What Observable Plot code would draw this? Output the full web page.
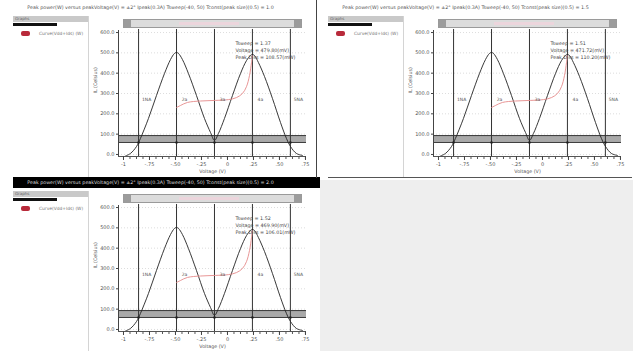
<!DOCTYPE html>
<html>
<head>
<meta charset="utf-8">
<script src="https://cdn.jsdelivr.net/npm/d3@7"></script>
<script src="https://cdn.jsdelivr.net/npm/@observablehq/plot@0.6"></script>
<style>
  html, body { margin: 0; padding: 0; background: #ffffff; }
  body { width: 633px; height: 351px; position: relative; overflow: hidden; font-family: "DejaVu Sans", sans-serif; }
  .quad { position: absolute; left: 320px; top: 180px; width: 313px; height: 171px; background: #eeeeee; }
  .panel { position: absolute; width: 317px; height: 178px; }
  .title { position: absolute; left: 13px; top: 2px; width: 307px; height: 11px; font-size: 4.8px; line-height: 11px; color: #555; text-align: center; white-space: nowrap; overflow: hidden; }
  .title span { position: relative; left: -16px; }
  .title.active { background: #000; color: #ddd; }
  .sidehead { position: absolute; left: 13px; top: 16px; width: 75px; height: 6px; background: #c9c9c9; font-size: 4px; line-height: 6px; color: #666; padding-left: 2px; box-sizing: border-box; }
  .sidebar { position: absolute; left: 13px; top: 23px; width: 44px; height: 3px; background: #111; }
  .sep { position: absolute; left: 88px; top: 16px; width: 1px; height: 162px; background: #d4d4d4; }
  .swatch { position: absolute; left: 21px; top: 31px; width: 9px; height: 5px; background: #b82a3a; border-radius: 2px; }
  .legtext { position: absolute; left: 39px; top: 31px; font-size: 4.4px; line-height: 5px; color: #777; white-space: nowrap; }
  .scroll { position: absolute; left: 123px; top: 19px; width: 179px; height: 9px; background: #dcdcdc; border: 1px solid #9a9a9a; box-sizing: border-box; }
  .scroll .btn { position: absolute; top: 0; width: 7px; height: 7px; background: #9c9c9c; }
  .scroll .thumb { position: absolute; left: 55px; top: 2px; width: 60px; height: 3px; background: #ecd5dc; }
  .bottom { position: absolute; left: 13px; top: 177px; width: 304px; height: 1px; background: #555; }
  .chart { position: absolute; left: 90px; top: 17px; }
</style>
</head>
<body>
<div class="quad"></div>
<script>
// ---- data ----
const xTicks = [-1, -0.75, -0.5, -0.25, 0, 0.25, 0.5, 0.75];
const xTickLabels = ["-1", "-.75", "-.50", "-.25", "0", ".25", ".50", ".75"];
const xMinorTicks = [-1, -0.9375, -0.875, -0.8125, -0.75, -0.6875, -0.625, -0.5625, -0.5, -0.4375, -0.375, -0.3125, -0.25, -0.1875, -0.125, -0.0625, 0, 0.0625, 0.125, 0.1875, 0.25, 0.3125, 0.375, 0.4375, 0.5, 0.5625, 0.625, 0.6875, 0.75];
const yTicks = [0, 100, 200, 300, 400, 500, 600];
const yTickLabels = ["0.0", "100.0", "200.0", "300.0", "400.0", "500.0", "600.0"];
const xDomain = [-1.048, 0.76];
const yDomain = [-10, 610];
const xLabel = ["Voltage (V)"];
const yLabel = ["IL (Celsius)"];

// black waveform (two peaks)
const curveX = [-0.99, -0.933, -0.875, -0.837, -0.76, -0.683, -0.606, -0.548, -0.51, -0.49, -0.471, -0.433, -0.375, -0.298, -0.221, -0.163, -0.125, -0.087, -0.029, 0.048, 0.125, 0.183, 0.221, 0.24, 0.26, 0.298, 0.356, 0.433, 0.51, 0.567, 0.606, 0.663, 0.721];
const curveY = [-10, 5, 39, 79, 177, 290, 398, 467, 497, 502, 497, 467, 398, 290, 177, 108, 69, 103, 177, 290, 398, 462, 487, 492, 487, 452, 384, 275, 157, 79, 39, 5, -5];

// red trace
const redX = [-0.49, -0.452, -0.385, -0.26, -0.115, 0.01, 0.087, 0.144, 0.183, 0.212, 0.231, 0.24];
const redY = [231, 241, 256, 263, 266, 270, 280, 300, 334, 389, 452, 487];

// vertical markers and their labels
const markerX = [-0.855, -0.49, -0.125, 0.24, 0.605];
const markerLabels = ["1NA", "2a", "3a", "4a", "5NA"];
const markerLabelY = 270;

// horizontal grey band
const bandLow = 59;
const bandHigh = 93;

// panel texts
const panelTitles = [
  "Peak power(W) versus peakVoltage(V) = \u00b12\u00b0 Ipeak(0.3A) Tsweep(-40, 50) Tconst(peak size)(0.5) = 1.0",
  "Peak power(W) versus peakVoltage(V) = \u00b12\u00b0 Ipeak(0.3A) Tsweep(-40, 50) Tconst(peak size)(0.5) = 1.5",
  "Peak power(W) versus peakVoltage(V) = \u00b12\u00b0 Ipeak(0.3A) Tsweep(-40, 50) Tconst(peak size)(0.5) = 2.0"
];
const legendLabels = ["Curve(Vdd+Ids) (W)", "Curve(Vdd+Ids) (W)", "Curve(Vdd+Ids) (W)"];
const annotations = [
  ["Tsweep = 1.37", "Voltage = 479.80(mV)", "Peak Diss = 108.57(mW)"],
  ["Tsweep = 1.51", "Voltage = 471.72(mV)", "Peak Diss = 110.20(mW)"],
  ["Tsweep = 1.52", "Voltage = 469.90(mV)", "Peak Diss = 106.01(mW)"]
];
const panelLeft = [0, 315, 0];
const panelTop = [0, 0, 175];
const activePanel = 2;

function makeChart(k) {
  const curve = curveX.map((x, i) => ({x, y: curveY[i]}));
  const red = redX.map((x, i) => ({x, y: redY[i]}));
  const ann = annotations[k].map((t, i) => ({t, i}));
  const annY = [546, 512, 477];
  return Plot.plot({
    width: 222, height: 160,
    marginLeft: 28, marginRight: 6, marginTop: 13, marginBottom: 21,
    x: {domain: xDomain},
    y: {domain: yDomain},
    style: {fontFamily: "DejaVu Sans", fontSize: "5px", background: "transparent", color: "#444", overflow: "visible"},
    marks: [
      Plot.gridY(yTicks, {stroke: "#bbb", strokeDasharray: "1,2", strokeOpacity: 0.5}),
      Plot.rect([{a: bandLow, b: bandHigh}], {x1: xDomain[0], x2: xDomain[1], y1: "a", y2: "b", fill: "#a9a9a9"}),
      Plot.ruleY([bandLow, bandHigh], {stroke: "#3a3a3a", strokeWidth: 1}),
      Plot.ruleX(markerX, {y1: yDomain[0], y2: yDomain[1] + 5, stroke: "#333", strokeWidth: 1}),
      Plot.line(curve, {x: "x", y: "y", stroke: "#222", strokeWidth: 0.9, curve: "catmull-rom"}),
      Plot.line(red, {x: "x", y: "y", stroke: "#e58a8a", strokeWidth: 0.9, curve: "catmull-rom"}),
      Plot.dot(markerX, {x: d => d, y: bandLow, r: 1.3, fill: "#222"}),
      Plot.text(markerX, {x: d => d, y: markerLabelY, text: (d, i) => markerLabels[i], dx: 8, fill: "#555", fontSize: 4.5}),
      Plot.text(ann, {x: 0.077, y: d => annY[d.i], text: "t", textAnchor: "start", fill: "#444", fontSize: 4.8}),
      Plot.ruleX([xDomain[0]], {stroke: "#444"}),
      Plot.ruleY([yDomain[0]], {stroke: "#555"}),
      Plot.axisY(yTicks, {tickFormat: d => yTickLabels[yTicks.indexOf(d)], tickSize: 2, tickPadding: 2, label: null, fill: "#555"}),
      Plot.axisX(xMinorTicks, {tickSize: 3, text: null, label: null, stroke: "#555"}),
      Plot.axisX(xTicks, {tickFormat: d => xTickLabels[xTicks.indexOf(d)], tickSize: 4, tickPadding: 2, label: null, fill: "#555"}),
      Plot.text(xLabel, {frameAnchor: "bottom", dy: 16, fill: "#555", fontSize: 4.8}),
      Plot.text(yLabel, {frameAnchor: "left", dx: -23, rotate: -90, fill: "#555", fontSize: 4.8})
    ]
  });
}

for (let k = 0; k < 3; k++) {
  const p = document.createElement("div");
  p.className = "panel";
  p.style.left = panelLeft[k] + "px";
  p.style.top = panelTop[k] + "px";
  p.innerHTML =
    `<div class="title${k === activePanel ? " active" : ""}"><span>${panelTitles[k]}</span></div>` +
    `<div class="sidehead">Graphs</div><div class="sidebar"></div><div class="sep"></div>` +
    `<div class="swatch"></div><div class="legtext">${legendLabels[k]}</div>` +
    `<div class="scroll"><div class="btn" style="left:0"></div><div class="thumb"></div><div class="btn" style="right:0"></div></div>` +
    (k < 2 ? `<div class="bottom"></div>` : "");
  const c = document.createElement("div");
  c.className = "chart";
  c.appendChild(makeChart(k));
  p.appendChild(c);
  document.body.appendChild(p);
}
// dark left edge of the second window
const edge = document.createElement("div");
edge.style.cssText = "position:absolute;left:316px;top:0;width:1px;height:178px;background:#444;";
document.body.appendChild(edge);
</script>
</body>
</html>
